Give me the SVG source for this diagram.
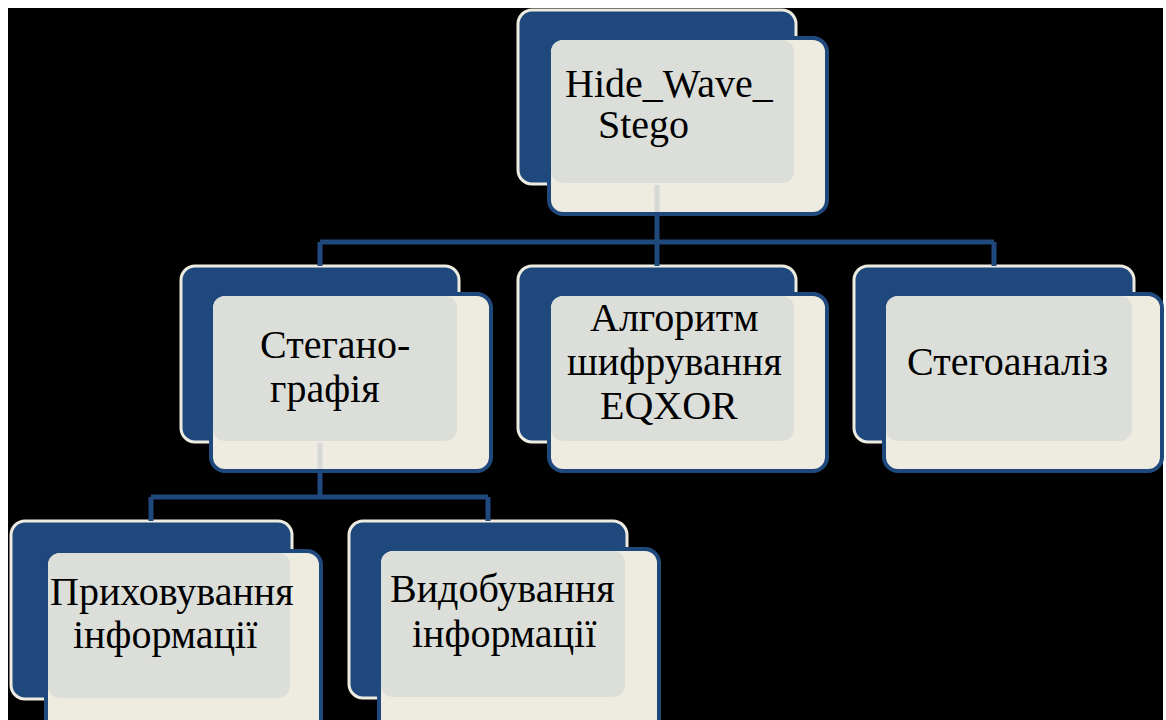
<svg xmlns="http://www.w3.org/2000/svg" width="1166" height="720" viewBox="0 0 1166 720">
<style>
.back{fill:#1f497d;stroke:#eeece1;stroke-width:3}
.front{fill:#eeece1;stroke:#1f497d;stroke-width:4}
.ov{fill:#dcdfd9}
.conn{fill:none;stroke:#1f497d;stroke-width:5}
.faint{fill:none;stroke:#1f497d;stroke-width:5;stroke-opacity:0.12}
.t{font-family:"Liberation Serif","Times New Roman",serif;font-size:40px;fill:#000}
</style>
<rect x="0" y="0" width="1166" height="720" fill="#ffffff"/>
<rect x="8" y="8" width="1155" height="712" fill="#000000"/>
<g id="node-root">
<rect class="back" x="518" y="10" width="278" height="174" rx="14"/>
<rect class="front" x="549" y="38" width="278" height="176" rx="14"/>
<rect class="ov" x="551" y="40" width="243" height="143" rx="12"/>
<text class="t" x="565" y="97">Hide_Wave_</text>
<text class="t" x="598" y="138">Stego</text>
</g>
<g id="node-stego">
<rect class="back" x="181" y="266" width="278" height="176" rx="14"/>
<rect class="front" x="211" y="294" width="280" height="177" rx="14"/>
<rect class="ov" x="213" y="296" width="244" height="145" rx="12"/>
<text class="t" x="260" y="358">Стегано-</text>
<text class="t" x="270" y="402">графія</text>
</g>
<g id="node-algo">
<rect class="back" x="518" y="266" width="278" height="176" rx="14"/>
<rect class="front" x="549" y="294" width="278" height="177" rx="14"/>
<rect class="ov" x="551" y="296" width="243" height="145" rx="12"/>
<text class="t" x="590" y="331">Алгоритм</text>
<text class="t" x="567" y="375">шифрування</text>
<text class="t" x="600" y="419">EQXOR</text>
</g>
<g id="node-analysis">
<rect class="back" x="854" y="266" width="280" height="176" rx="14"/>
<rect class="front" x="884" y="294" width="278" height="177" rx="14"/>
<rect class="ov" x="886" y="296" width="246" height="145" rx="12"/>
<text class="t" x="907" y="375">Стегоаналіз</text>
</g>
<g id="node-hide">
<rect class="back" x="11" y="521" width="281" height="178" rx="14"/>
<rect class="front" x="46" y="551" width="275" height="190" rx="14"/>
<rect class="ov" x="48" y="553" width="242" height="145" rx="12"/>
<text class="t" x="50" y="605">Приховування</text>
<text class="t" x="73" y="648">інформації</text>
</g>
<g id="node-extract">
<rect class="back" x="349" y="521" width="278" height="177" rx="14"/>
<rect class="front" x="379" y="549" width="280" height="190" rx="14"/>
<rect class="ov" x="381" y="551" width="244" height="146" rx="12"/>
<text class="t" x="390" y="602">Видобування</text>
<text class="t" x="412" y="647">інформації</text>
</g>
<g id="connectors">
<path class="faint" d="M657 185 V212 M320 443 V469"/>
<path class="conn" d="M657 216 V242 M320 242 H994 M320 242 V266 M657 242 V266 M994 242 V266"/>
<path class="conn" d="M320 473 V497 M151 497 H488 M151 497 V521 M488 497 V521"/>
</g>
</svg>
